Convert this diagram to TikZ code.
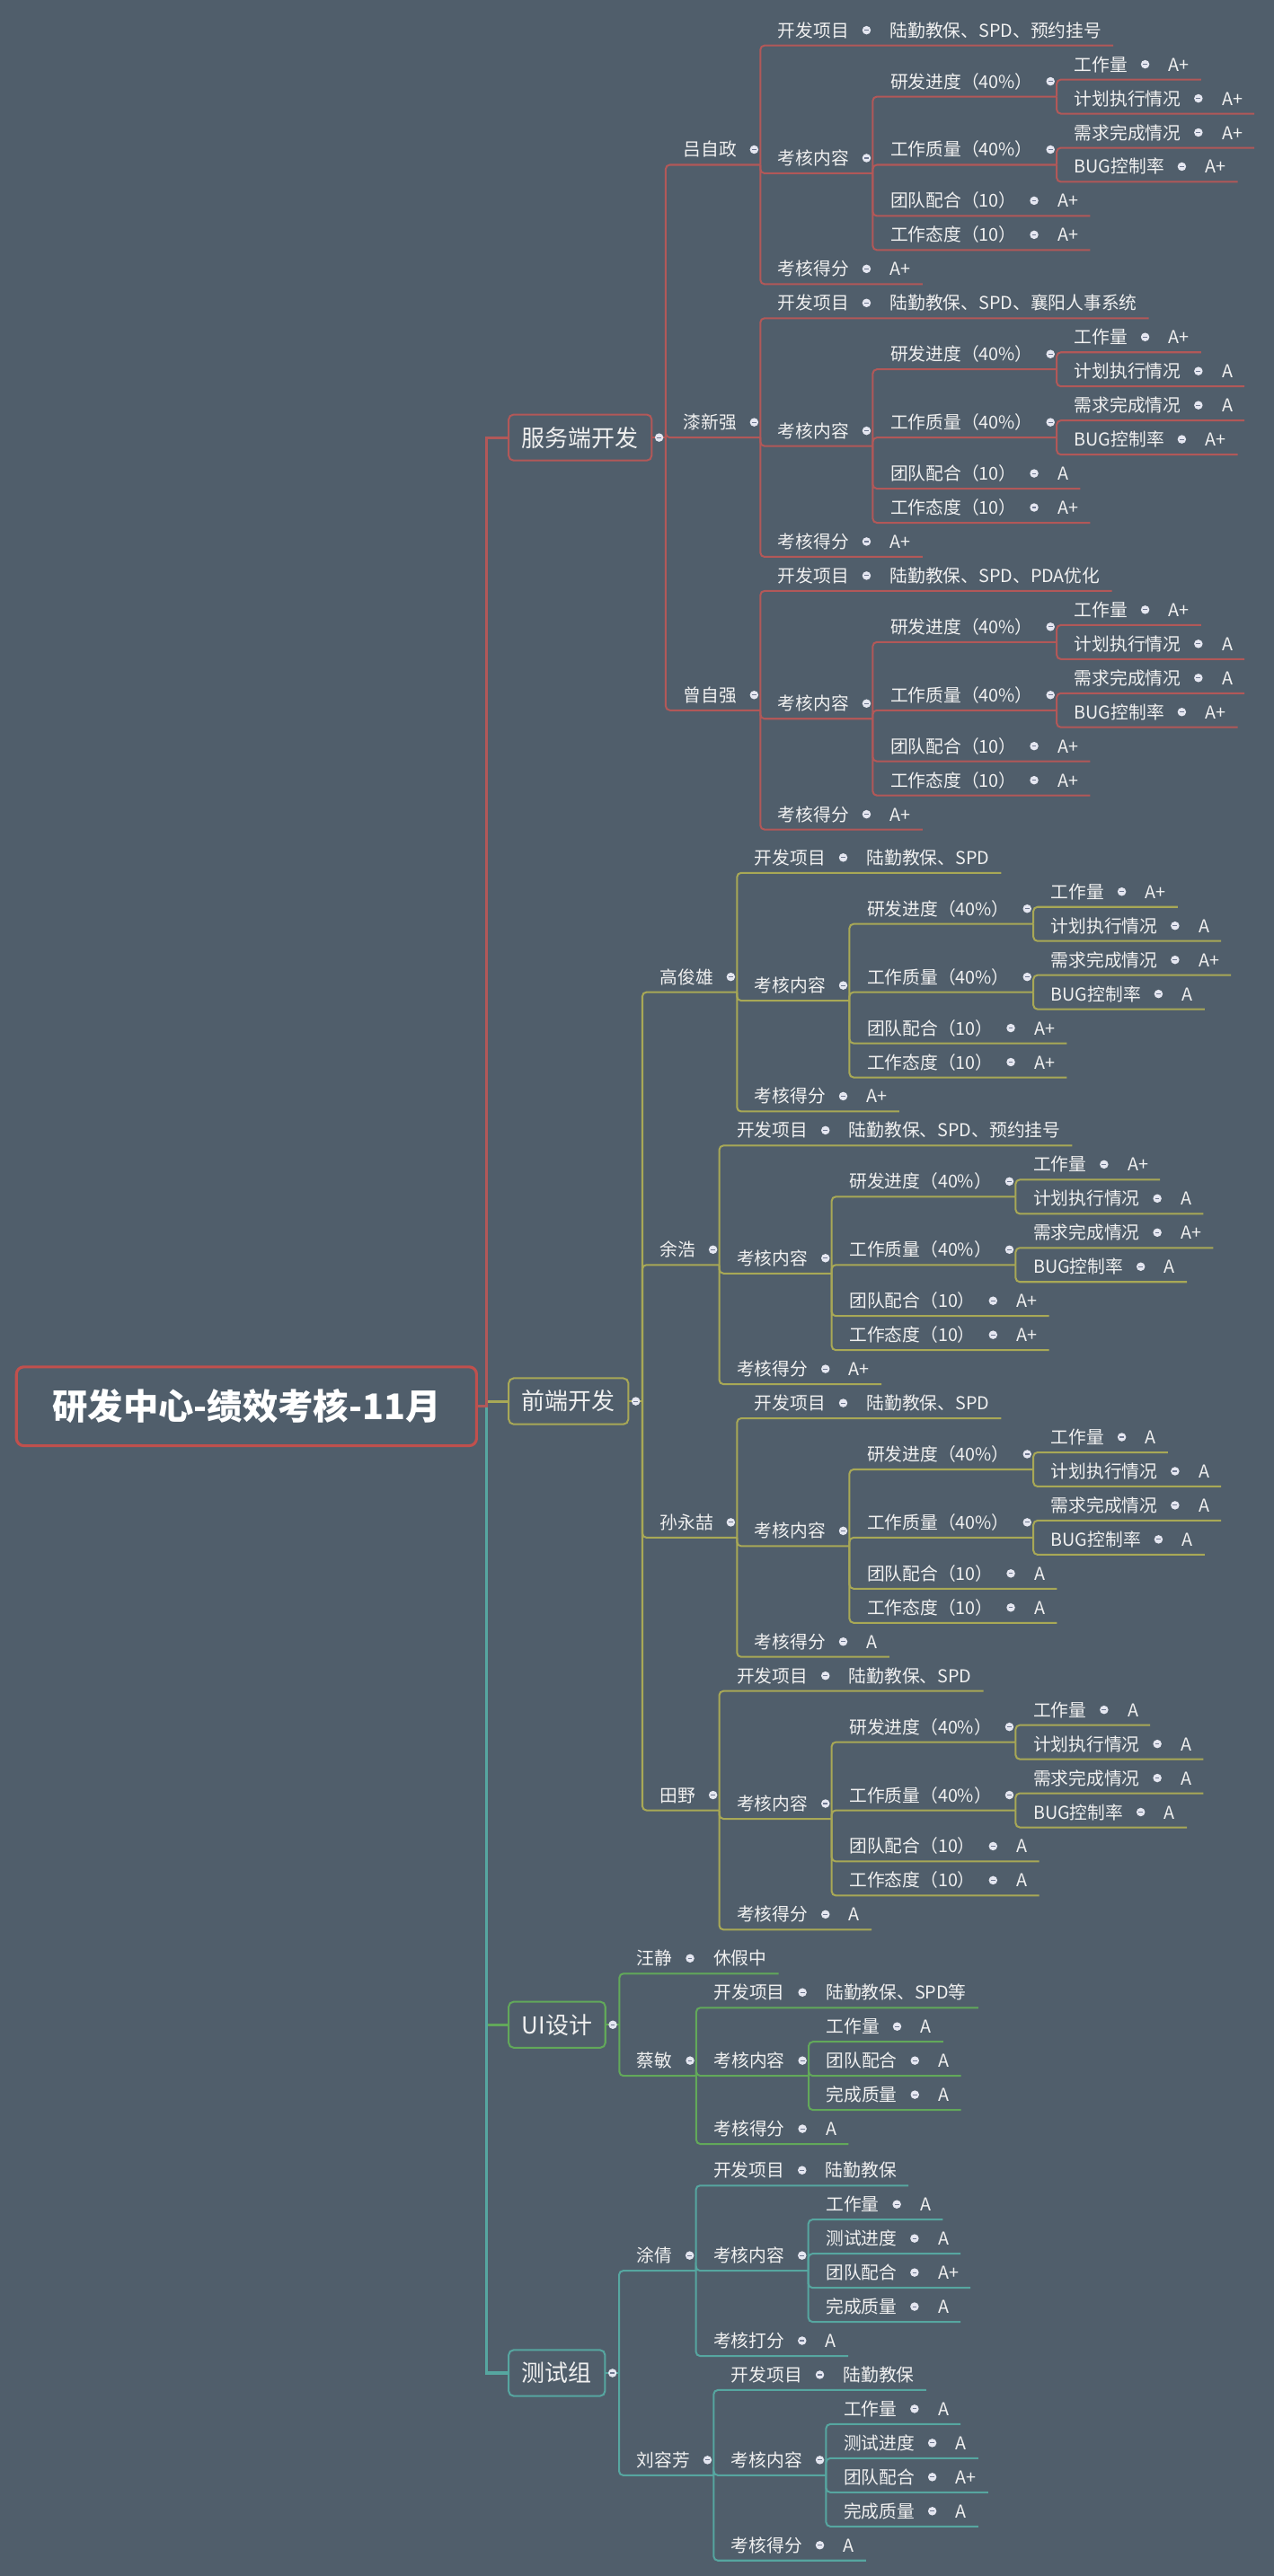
\documentclass[tikz,border=0pt]{standalone}
\usepackage{fontspec}
\setmainfont{Noto Sans CJK SC}
\usetikzlibrary{calc}
\definecolor{bg}{RGB}{80,94,107}
\definecolor{fg}{RGB}{240,240,240}
\definecolor{cred}{RGB}{178,88,88}
\definecolor{crootb}{RGB}{192,80,77}
\definecolor{colive}{RGB}{168,168,86}
\definecolor{cgreen}{RGB}{98,168,90}
\definecolor{cteal}{RGB}{86,166,160}
\definecolor{dotf}{RGB}{228,230,240}
\definecolor{dotm}{RGB}{110,120,145}
\newcommand\fsz{\fontsize{10.8pt}{13pt}\selectfont}
\def\uo{9.3}
\def\cc{cred}
\tikzset{
  txt/.style={inner sep=0pt, anchor=west, text=fg, font=\fsz, text height=9.5pt, text depth=1.3pt},
  ln/.style={draw=\cc, line width=1.1pt, rounded corners=2.5pt},
  trunk/.style={line width=1.7pt},
  l1box/.style={draw=#1, line width=1.1pt, rounded corners=3pt, inner xsep=8pt, inner ysep=0pt, minimum height=28pt, text=fg, font=\fontsize{14.2pt}{17pt}\selectfont, anchor=west, text height=12.5pt, text depth=1.7pt},
  rootbox/.style={draw=crootb, line width=1.7pt, rounded corners=4.5pt, minimum width=280pt, minimum height=48pt, inner sep=0pt, text=white, font=\fontsize{21.5pt}{26pt}\selectfont\bfseries},
  dotc/.style={fill=dotf},
  minusc/.style={draw=dotm, line width=0.6pt},
}
% collapse dot at an anchor plus x offset
\newcommand\mmDot[2]{%
  \fill[dotc] ($(#1)+(#2,0pt)$) circle (2.6pt);
  \draw[minusc] ($(#1)+(#2,0pt)+(-1.3pt,0pt)$) -- ($(#1)+(#2,0pt)+(1.3pt,0pt)$);
}
% key - value leaf: name, parent junction, underline y, key, value
\newcommand\mmKV[5]{%
  \pgfmathsetmacro\myty{\uo-(#3)}%
  \pgfmathsetmacro\mytu{-(#3)}%
  \path let \p1=(#2) in node[txt] (#1) at (\x1+10.5pt,\myty pt) {#4};
  \node[txt] (#1v) at ($(#1.east)+(24.6pt,0pt)$) {#5};
  \path let \p2=(#1v.east) in coordinate (#1e) at (\x2+7pt,\mytu pt);
  \draw[ln] (#2) |- (#1e);
  \mmDot{#1.east}{10.5pt}%
}
% parent topic: name, parent junction, underline y, text
\newcommand\mmPT[4]{%
  \pgfmathsetmacro\myty{\uo-(#3)}%
  \pgfmathsetmacro\mytu{-(#3)}%
  \path let \p1=(#2) in node[txt] (#1) at (\x1+10.5pt,\myty pt) {#4};
  \path let \p2=(#1.east) in coordinate (#1j) at (\x2+14.3pt,\mytu pt);
  \draw[ln] (#2) |- (#1j);
  \mmDot{#1.east}{10.5pt}%
}
% developer block: id, parent junction, first underline y, name, project
\newcommand\mmDev[5]{%
  \pgfmathsetmacro\yA{#3}%
  \pgfmathsetmacro\yB{#3+20.75}%
  \pgfmathsetmacro\yC{#3+41.5}%
  \pgfmathsetmacro\yD{#3+62.25}%
  \pgfmathsetmacro\yE{#3+83}%
  \pgfmathsetmacro\yF{#3+103.75}%
  \pgfmathsetmacro\yG{#3+124.5}%
  \pgfmathsetmacro\yH{#3+145.25}%
  \pgfmathsetmacro\yP{(\yB+\yC)/2}%
  \pgfmathsetmacro\yQ{(\yD+\yE)/2}%
  \pgfmathsetmacro\yK{(\yP+\yG)/2}%
  \pgfmathsetmacro\yN{(\yA+\yH)/2}%
  \mmPT{#1}{#2}{\yN}{#4}
  \mmKV{#1kf}{#1j}{\yA}{开发项目}{#5}
  \mmPT{#1kn}{#1j}{\yK}{考核内容}
  \mmPT{#1yf}{#1knj}{\yP}{研发进度（40\%）}
  \mmPT{#1zl}{#1knj}{\yQ}{工作质量（40\%）}
}
\newcommand\mmGrades[8]{%
  \mmKV{#1g1}{#1yfj}{\yB}{工作量}{#2}
  \mmKV{#1g2}{#1yfj}{\yC}{计划执行情况}{#3}
  \mmKV{#1g3}{#1zlj}{\yD}{需求完成情况}{#4}
  \mmKV{#1g4}{#1zlj}{\yE}{BUG控制率}{#5}
  \mmKV{#1g5}{#1knj}{\yF}{团队配合（10）}{#6}
  \mmKV{#1g6}{#1knj}{\yG}{工作态度（10）}{#7}
  \mmKV{#1g7}{#1j}{\yH}{考核得分}{#8}
}
\begin{document}
\begin{tikzpicture}[x=1pt,y=1pt]
\fill[bg] (0,0) rectangle (775,-1568);
\useasboundingbox (0,0) rectangle (775,-1568);

% root and main branches
\node[rootbox] (root) at (150,-856) {研发中心-绩效考核-11月};
\node[l1box=cred] (svc) at (309,-266.325) {服务端开发};
\node[l1box=colive] (fe) at (309,-852.925) {前端开发};
\node[l1box=cgreen] (ui) at (309,-1232.425) {UI设计};
\node[l1box=cteal] (qa) at (309,-1444.425) {测试组};
\coordinate (tr) at (296,-856);
\draw[trunk, draw=colive] (root.east) -- (tr) |- (fe.west);
\draw[trunk, draw=cgreen] (root.east) -- (tr) |- (ui.west);
\draw[trunk, draw=cteal] (root.east) -- (tr) |- (qa.west);
\draw[trunk, draw=cred] (root.east) -- (tr) |- (svc.west);

% ---------- 服务端开发 ----------
\def\cc{cred}
\coordinate (svcj) at ($(svc.east)+(8pt,0pt)$);
\draw[ln] (svc.east) -- (svcj);
\mmDot{svc.east}{4pt}
\mmDev{p1}{svcj}{27.7}{吕自政}{陆勤教保、SPD、预约挂号}
\mmGrades{p1}{A+}{A+}{A+}{A+}{A+}{A+}{A+}
\mmDev{p2}{svcj}{193.7}{漆新强}{陆勤教保、SPD、襄阳人事系统}
\mmGrades{p2}{A+}{A}{A}{A+}{A}{A+}{A+}
\mmDev{p3}{svcj}{359.7}{曾自强}{陆勤教保、SPD、PDA优化}
\mmGrades{p3}{A+}{A}{A}{A+}{A+}{A+}{A+}

% ---------- 前端开发 ----------
\def\cc{colive}
\coordinate (fej) at ($(fe.east)+(8pt,0pt)$);
\draw[ln] (fe.east) -- (fej);
\mmDot{fe.east}{4pt}
\mmDev{p4}{fej}{531.3}{高俊雄}{陆勤教保、SPD}
\mmGrades{p4}{A+}{A}{A+}{A}{A+}{A+}{A+}
\mmDev{p5}{fej}{697.3}{余浩}{陆勤教保、SPD、预约挂号}
\mmGrades{p5}{A+}{A}{A+}{A}{A+}{A+}{A+}
\mmDev{p6}{fej}{863.3}{孙永喆}{陆勤教保、SPD}
\mmGrades{p6}{A}{A}{A}{A}{A}{A}{A}
\mmDev{p7}{fej}{1029.3}{田野}{陆勤教保、SPD}
\mmGrades{p7}{A}{A}{A}{A}{A}{A}{A}

% ---------- UI设计 ----------
\def\cc{cgreen}
\coordinate (uij) at ($(ui.east)+(8pt,0pt)$);
\draw[ln] (ui.east) -- (uij);
\mmDot{ui.east}{4pt}
\mmKV{p8}{uij}{1201.3}{汪静}{休假中}
\mmPT{p9}{uij}{1263.55}{蔡敏}
\mmKV{p9kf}{p9j}{1222.05}{开发项目}{陆勤教保、SPD等}
\mmPT{p9kn}{p9j}{1263.55}{考核内容}
\mmKV{p9g1}{p9knj}{1242.8}{工作量}{A}
\mmKV{p9g2}{p9knj}{1263.55}{团队配合}{A}
\mmKV{p9g3}{p9knj}{1284.3}{完成质量}{A}
\mmKV{p9g4}{p9j}{1305.05}{考核得分}{A}

% ---------- 测试组 ----------
\def\cc{cteal}
\coordinate (qaj) at ($(qa.east)+(8pt,0pt)$);
\draw[ln] (qa.east) -- (qaj);
\mmDot{qa.east}{4pt}
\mmPT{p10}{qaj}{1382.175}{涂倩}
\mmKV{p10kf}{p10j}{1330.3}{开发项目}{陆勤教保}
\mmPT{p10kn}{p10j}{1382.175}{考核内容}
\mmKV{p10g1}{p10knj}{1351.05}{工作量}{A}
\mmKV{p10g2}{p10knj}{1371.8}{测试进度}{A}
\mmKV{p10g3}{p10knj}{1392.55}{团队配合}{A+}
\mmKV{p10g4}{p10knj}{1413.3}{完成质量}{A}
\mmKV{p10g5}{p10j}{1434.05}{考核打分}{A}
\mmPT{p11}{qaj}{1506.675}{刘容芳}
\mmKV{p11kf}{p11j}{1454.8}{开发项目}{陆勤教保}
\mmPT{p11kn}{p11j}{1506.675}{考核内容}
\mmKV{p11g1}{p11knj}{1475.55}{工作量}{A}
\mmKV{p11g2}{p11knj}{1496.3}{测试进度}{A}
\mmKV{p11g3}{p11knj}{1517.05}{团队配合}{A+}
\mmKV{p11g4}{p11knj}{1537.8}{完成质量}{A}
\mmKV{p11g5}{p11j}{1558.55}{考核得分}{A}
\end{tikzpicture}
\end{document}
